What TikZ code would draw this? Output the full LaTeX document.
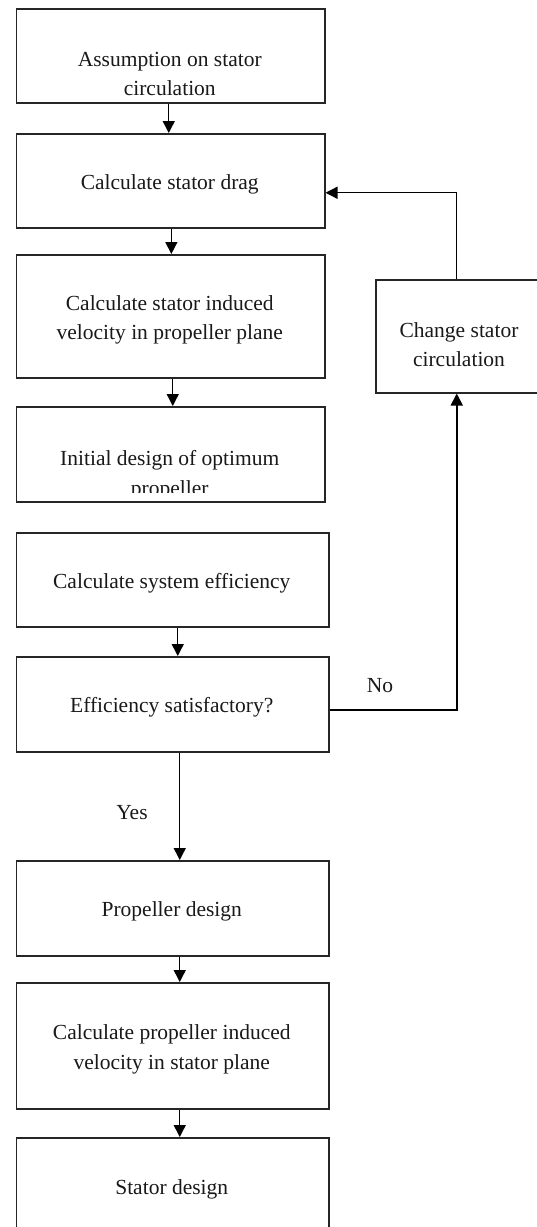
\documentclass[tikz,border=0pt]{standalone}
\usepackage{fontspec}
\setmainfont{Liberation Serif}
\usetikzlibrary{arrows.meta,calc}
\tikzset{
  box/.style={draw=black!85, line width=1.5pt, rectangle, inner sep=0pt, anchor=north west},
  txt/.style={font=\fontsize{21.5}{29.5}\selectfont, text=black!90, align=center, inner sep=0pt},
  conn/.style={draw=black, line width=1.4pt, -{Triangle[width=12pt,length=12pt]}},
}
\begin{document}
\begin{tikzpicture}[x=1pt,y=-1pt]
\useasboundingbox (0,0) rectangle (537,1227);
\clip (0,0) rectangle (537,1227);
% boxes
\node[box, minimum width=308.5pt, minimum height=94pt] (b1) at (15.5,8) {};
\node[box, minimum width=308.5pt, minimum height=94pt] (b2) at (15.5,133) {};
\node[box, minimum width=308.5pt, minimum height=123pt] (b3) at (15.5,254) {};
\node[box, minimum width=308.5pt, minimum height=95pt] (b4) at (15.5,406) {};
\node[box, minimum width=312.5pt, minimum height=94pt] (b5) at (15.5,532) {};
\node[box, minimum width=312.5pt, minimum height=95pt] (b6) at (15.5,656) {};
\node[box, minimum width=312.5pt, minimum height=95pt] (b7) at (15.5,860) {};
\node[box, minimum width=312.5pt, minimum height=126pt] (b8) at (15.5,982) {};
\node[box, minimum width=312.5pt, minimum height=110pt] (b9) at (15.5,1137) {};
\node[box, minimum width=168pt, minimum height=113pt] (rb) at (375,279) {};
% texts
\node[txt] (t1) at (169.75,73.75) {Assumption on stator\\circulation};
\node[txt] (t2) at (169.75,184) {Calculate stator drag};
\node[txt] (t3) at (169.75,320) {Calculate stator induced\\velocity in propeller plane};
\begin{scope}
  \clip (15.5,406) rectangle (324,492);
  \node[txt] (t4) at (169.75,475) {Initial design of optimum\\propeller};
\end{scope}
\node[txt] (t5) at (171.75,583) {Calculate system efficiency};
\node[txt] (t6) at (171.75,707) {Efficiency satisfactory?};
\node[txt] (t7) at (171.75,911) {Propeller design};
\node[txt] (t8) at (171.75,1049.5) {Calculate propeller induced\\velocity in stator plane};
\node[txt] (t9) at (171.75,1189) {Stator design};
\node[txt] (tr) at (459,344.5) {Change stator\\circulation};
\node[txt] (no) at (380,686) {No};
\node[txt] (yes) at (132,813) {Yes};
% connectors
\draw[conn] ($(b1.south)+(-1.75,0)$) -- ($(b2.north)+(-1.75,0)$);
\draw[conn] ($(b2.south)+(0.85,0)$) -- ($(b3.north)+(0.85,0)$);
\draw[conn] ($(b3.south)+(2.25,0)$) -- ($(b4.north)+(2.25,0)$);
\draw[conn] ($(b5.south)+(5.25,0)$) -- ($(b6.north)+(5.25,0)$);
\draw[conn] ($(b6.south)+(7.25,0)$) -- ($(b7.north)+(7.25,0)$);
\draw[conn] ($(b7.south)+(7.25,0)$) -- ($(b8.north)+(7.25,0)$);
\draw[conn] ($(b8.south)+(7.25,0)$) -- ($(b9.north)+(7.25,0)$);
\draw[conn, line width=1.8pt] ($(b6.east)+(0,5.5)$) -| ($(rb.south)+(-3,0)$);
\draw[conn] ($(rb.north)+(-3,0)$) |- ($(b2.east)+(0,12)$);
\end{tikzpicture}
\end{document}
